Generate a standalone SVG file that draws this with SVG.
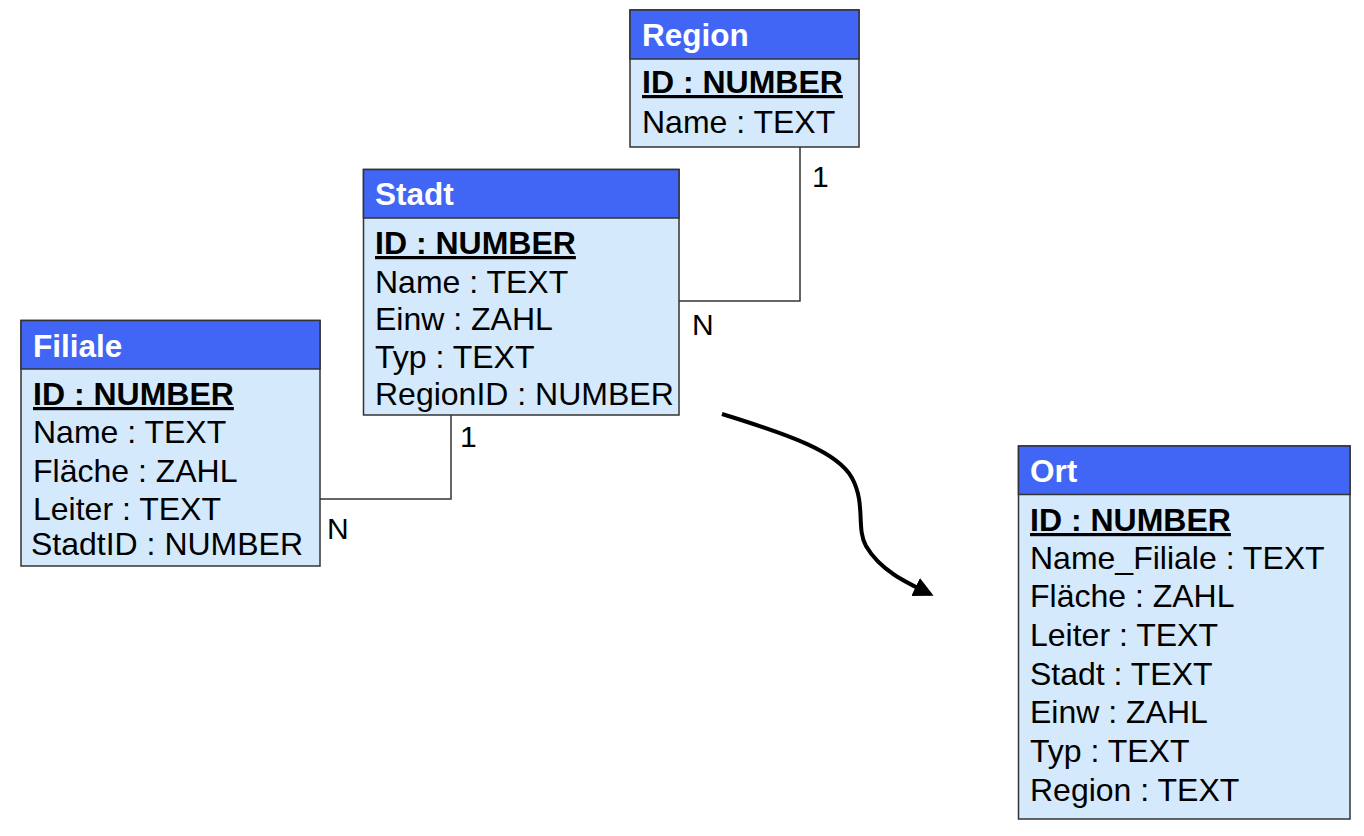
<svg xmlns="http://www.w3.org/2000/svg" width="1364" height="836" viewBox="0 0 1364 836">
<style>
.box{fill:#D4E9FB;stroke:#333;stroke-width:1.5}
.hdr{fill:#4166F5;stroke:#333;stroke-width:1.5}
.t{font-family:"Liberation Sans",Arial,sans-serif;font-size:32px;fill:#000}
.title{font-family:"Liberation Sans",Arial,sans-serif;font-size:31.5px;font-weight:bold;fill:#fff}
.pk{font-weight:bold;text-decoration:underline}
.rel{fill:none;stroke:#333;stroke-width:1.5}
.lbl{font-family:"Liberation Sans",Arial,sans-serif;font-size:30px;fill:#000}
</style>
<defs>
<marker id="ah" viewBox="0 0 10 10" refX="8" refY="5" markerWidth="5" markerHeight="5" orient="auto" markerUnits="strokeWidth">
<path d="M0,0 L10,5 L0,10 z" fill="#000"/>
</marker>
</defs>
<rect width="1364" height="836" fill="#fff"/>
<g id="connectors">
<polyline class="rel" points="800,147 800,301 679,301"/>
<polyline class="rel" points="451,415 451,499 320,499"/>
<text class="lbl" x="812" y="187">1</text>
<text class="lbl" x="692" y="335">N</text>
<text class="lbl" x="460" y="447">1</text>
<text class="lbl" x="327" y="539">N</text>
<path d="M722,414 C790,435 838,452 852,478 C866,504 856,528 866,546 C880,570 905,582 930,594" fill="none" stroke="#000" stroke-width="4" marker-end="url(#ah)"/>
</g>
<g id="region">
<rect class="box" x="630" y="10" width="229" height="137"/>
<rect class="hdr" x="630" y="10" width="229" height="49"/>
<text class="title" x="642" y="46">Region</text>
<text class="t pk" x="642" y="93">ID : NUMBER</text>
<text class="t" x="642" y="133">Name : TEXT</text>
</g>
<g id="stadt">
<rect class="box" x="363.5" y="169.5" width="315.5" height="245.5"/>
<rect class="hdr" x="363.5" y="169.5" width="315.5" height="48.5"/>
<text class="title" x="375" y="205">Stadt</text>
<text class="t pk" x="375" y="254">ID : NUMBER</text>
<text class="t" x="375" y="293">Name : TEXT</text>
<text class="t" x="375" y="330">Einw : ZAHL</text>
<text class="t" x="375" y="368">Typ : TEXT</text>
<text class="t" x="375" y="405">RegionID : NUMBER</text>
</g>
<g id="filiale">
<rect class="box" x="21" y="320.5" width="299" height="245.5"/>
<rect class="hdr" x="21" y="320.5" width="299" height="48.5"/>
<text class="title" x="33" y="357">Filiale</text>
<text class="t pk" x="33" y="405">ID : NUMBER</text>
<text class="t" x="33" y="443">Name : TEXT</text>
<text class="t" x="33" y="482">Fläche : ZAHL</text>
<text class="t" x="33" y="520">Leiter : TEXT</text>
<text class="t" x="31" y="555">StadtID : NUMBER</text>
</g>
<g id="ort">
<rect class="box" x="1018.5" y="446" width="331.5" height="373"/>
<rect class="hdr" x="1018.5" y="446" width="331.5" height="48.5"/>
<text class="title" x="1030" y="482">Ort</text>
<text class="t pk" x="1030" y="531">ID : NUMBER</text>
<text class="t" x="1030" y="569">Name_Filiale : TEXT</text>
<text class="t" x="1030" y="607">Fläche : ZAHL</text>
<text class="t" x="1030" y="646">Leiter : TEXT</text>
<text class="t" x="1030" y="685">Stadt : TEXT</text>
<text class="t" x="1030" y="723">Einw : ZAHL</text>
<text class="t" x="1030" y="762">Typ : TEXT</text>
<text class="t" x="1030" y="801">Region : TEXT</text>
</g>
</svg>
